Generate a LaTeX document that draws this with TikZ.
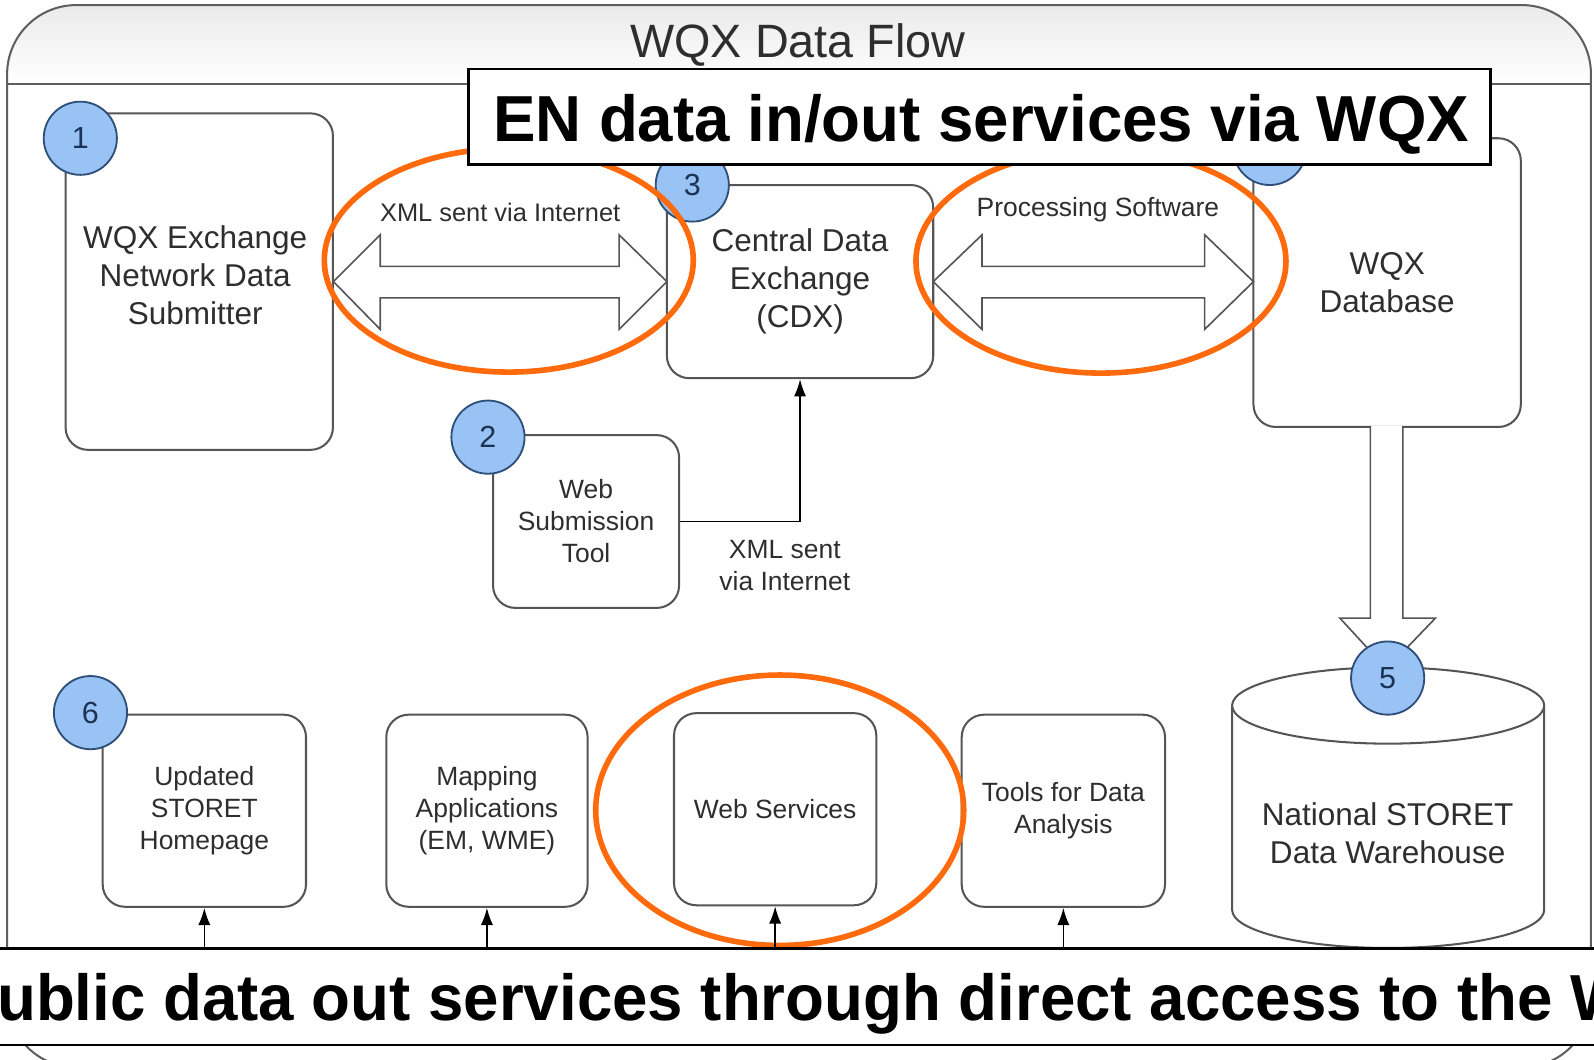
\documentclass[tikz,border=0pt]{standalone}
\usepackage{fontspec}
\setmainfont{Liberation Sans}
\usetikzlibrary{arrows.meta}
\definecolor{framegray}{HTML}{5E5E5E}
\definecolor{boxgray}{HTML}{555555}
\definecolor{txtgray}{HTML}{2E2E2E}
\definecolor{numfill}{HTML}{98C3F4}
\definecolor{numdraw}{HTML}{2F4E78}
\definecolor{numtxt}{HTML}{1C3354}
\definecolor{hiorange}{HTML}{FF6A0D}
\begin{document}
\begin{tikzpicture}[x=1pt,y=-1pt,
  box/.style={draw=boxgray, line width=2pt, rounded corners=22pt, fill=white, align=center, text=txtgray, inner sep=0pt},
  num/.style={circle, draw=numdraw, line width=1.8pt, fill=numfill, minimum size=72pt, inner sep=0pt, text=numtxt, font=\fontsize{30}{36}\selectfont},
  hl/.style={draw=hiorange, line width=5.5pt},
  fat/.style={draw=boxgray, line width=1.6pt, fill=white, line join=miter},
  conn/.style={draw=black, line width=1.6pt, -{Latex[length=17pt,width=12pt]}},
  banner/.style={draw=black, line width=2.5pt, fill=white, inner sep=0pt},
  bigfont/.style={font=\fontsize{31}{37.5}\selectfont},
  smallfont/.style={font=\fontsize{26}{31.5}\selectfont},
  lbl/.style={text=txtgray, align=center, inner sep=0pt},
  bannerfont/.style={font=\fontsize{64}{70}\selectfont\bfseries},
  frame/.style={draw=framegray, line width=2pt}
]
\useasboundingbox (0,0) rectangle (1568,1042);

% outer frame with header
\begin{scope}
  \clip[rounded corners=68pt] (7,5) rectangle (1565,1050);
  \shade[top color=black!8, bottom color=white] (7,5) rectangle (1565,83);
\end{scope}
\draw[frame, rounded corners=68pt] (7,5) rectangle (1565,1050);
\draw[frame] (7,83) -- (1565,83);
\node[lbl, font=\fontsize{46}{50}\selectfont] (title) at (785,44) {WQX Data Flow};

% upper boxes
\node[box, minimum width=263pt, minimum height=331pt] (sub) at (196,277) {};
\node[lbl, bigfont] (subt) at (192,270.5) {WQX Exchange\\Network Data\\Submitter};
\node[box, bigfont, minimum width=262pt, minimum height=190pt] (cdx) at (787,277) {Central Data\\Exchange\\(CDX)};
\node[box, bigfont, minimum width=263pt, minimum height=284pt] (wqxdb) at (1364.5,278) {WQX\\Database};
\node[box, smallfont, minimum width=183pt, minimum height=170pt] (wst) at (576.5,513) {Web\\Submission\\Tool};

% lower boxes
\node[box, smallfont, minimum width=200pt, minimum height=189pt] (home) at (201,797.5) {Updated\\STORET\\Homepage};
\node[box, smallfont, minimum width=198pt, minimum height=189pt] (map) at (479,797.5) {Mapping\\Applications\\(EM, WME)};
\node[box, smallfont, minimum width=199pt, minimum height=189pt] (ws) at (762.5,796) {Web Services};
\node[box, smallfont, minimum width=200pt, minimum height=189pt] (tools) at (1046,797.5) {Tools for Data\\Analysis};

% number circles
\node[num] (n1) at (79,136) {1};
\node[num] (n2) at (480,430) {2};
\node[num] (n3) at (681,182) {3};
\node[num] (n4) at (1249,146) {};
\node[num] (n6) at (89,701) {6};

% fat double arrows
\draw[fat] (328,277) -- (374,231) -- (374,262) -- (609,262) -- (609,231) -- (656,277)
  -- (609,324) -- (609,293) -- (374,293) -- (374,324) -- cycle;
\draw[fat] (918,277) -- (966,231) -- (966,262) -- (1185,262) -- (1185,231) -- (1233,277)
  -- (1185,324) -- (1185,293) -- (966,293) -- (966,324) -- cycle;
\node[lbl, font=\fontsize{25}{30}\selectfont] (lxml1) at (492,209) {XML sent via Internet};
\node[lbl, smallfont] (lproc) at (1080,206) {Processing Software};

% web submission connector
\draw[conn] (wst.east) -| (cdx.south);
\node[lbl, smallfont] (lxml2) at (772,556) {XML sent\\via Internet};

% big down arrow
\draw[fat] (1348,419) -- (1348,608) -- (1318,608) -- (1364,658) -- (1412,608) -- (1380,608) -- (1380,419);

% cylinder
\filldraw[fill=white, draw=boxgray, line width=2pt] (1212,694) -- (1212,895)
  .. controls (1212,915.7) and (1280.7,932.5) .. (1365.5,932.5)
  .. controls (1450.3,932.5) and (1519,915.7) .. (1519,895) -- (1519,694);
\draw[fill=white, draw=boxgray, line width=2pt] (1365.5,694) ellipse [x radius=153.5, y radius=37.5];
\node[lbl, bigfont] (nsdw) at (1365,820) {National STORET\\Data Warehouse};
\node[num] (n5) at (1365,667) {5};

% highlight ellipses
\draw[hl] (500.5,256) ellipse [x radius=181.5, y radius=110];
\draw[hl] (1083,257) ellipse [x radius=182, y radius=110];
\draw[hl] (767,797) ellipse [x radius=181, y radius=133];

% banners
\node[banner, minimum width=1005pt, minimum height=94pt] (ban1) at (963.5,115) {};
\node[anchor=base, inner sep=0pt, bannerfont] (ban1t) at (965,139) {\scalebox{0.978}[1]{EN data in/out services via WQX}};
\node[banner, minimum width=1620pt, minimum height=95pt] (ban2) at (784,980.5) {};
\node[anchor=base west, inner sep=0pt, bannerfont] (ban2t) at (-3,1004) {\scalebox{0.978}[1]{ublic data out services through direct access to the W}};

% arrows from the bottom banner
\draw[conn] (home.south |- ban2.north) -- (home.south);
\draw[conn] (map.south |- ban2.north) -- (map.south);
\draw[conn] (ws.south |- ban2.north) -- (ws.south);
\draw[conn] (tools.south |- ban2.north) -- (tools.south);
\end{tikzpicture}
\end{document}
